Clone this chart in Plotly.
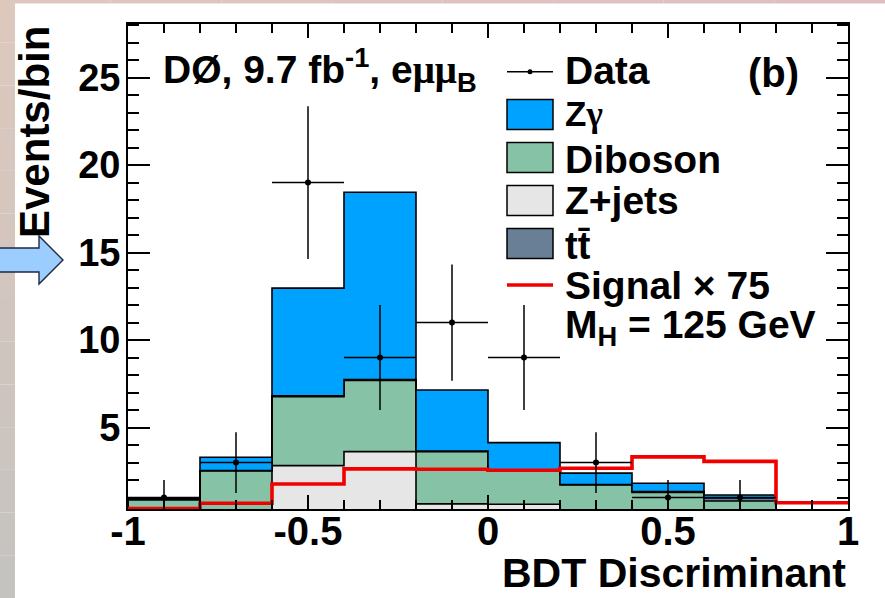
import numpy as np
import plotly.graph_objects as go

# ---------------- data ----------------
bin_edges = [-1.0, -0.8, -0.6, -0.4, -0.2, 0.0, 0.2, 0.4, 0.6, 0.8, 1.0]
zjets    = [0.05, 0.10, 2.83, 3.63, 0.64, 0.62, 0.30, 0.20, 0.10, 0.02]
diboson  = [0.82, 2.43, 3.94, 4.06, 2.99, 1.92, 1.42, 1.09, 0.71, 0.10]
ttbar    = [0.05, 0.02, 0.05, 0.05, 0.03, 0.03, 0.03, 0.05, 0.17, 0.02]
zgamma   = [0.05, 0.76, 6.15, 10.71, 3.49, 1.57, 0.65, 0.48, 0.17, 0.02]
signal   = [0.37, 0.68, 1.78, 2.64, 2.62, 2.56, 2.68, 3.33, 3.07, 0.71]
data     = [1, 3, 19, 9, 11, 9, 3, 1, 1, 0]
data_err = [1.0, 1.73, 4.36, 3.0, 3.32, 3.0, 1.73, 1.0, 1.0, 0.0]

x_tickvals = [-1, -0.5, 0, 0.5, 1]
x_ticktext = ["-1", "-0.5", "0", "0.5", "1"]
y_tickvals = [5, 10, 15, 20, 25]

# ---------------- styling ----------------
W, H = 885, 598
L, R, T, B = 128, 37, 24, 89
PW, PH = W - L - R, H - T - B
FONT = "Liberation Sans"
C_ZG, C_DIB, C_ZJ, C_TT, C_SIG = "#00A2FF", "#86C3A6", "#E6E6E6", "#687F96", "#F20000"


def px(X):
    return (X - L) / PW


def py(Y):
    return (H - B - Y) / PH


edges = np.array(bin_edges)
centers = 0.5 * (edges[:-1] + edges[1:])
halfw = 0.5 * (edges[1:] - edges[:-1])

layers = [("Z+jets", zjets, C_ZJ), ("Diboson", diboson, C_DIB),
          ("ttbar", ttbar, C_TT), ("Zgamma", zgamma, C_ZG)]

fig = go.Figure()
cum = np.zeros(len(zjets))
for i, (name, vals, col) in enumerate(layers):
    cum = cum + np.array(vals)
    xs = [edges[0]] + list(edges) + [edges[-1]]
    ys = [0.0] + list(cum) + [cum[-1], 0.0]
    fig.add_trace(go.Scatter(
        x=xs, y=ys, mode="lines", line=dict(shape="hv", color="black", width=1.6),
        fill="tozeroy" if i == 0 else "tonexty", fillcolor=col,
        name=name, showlegend=False, hoverinfo="skip"))

# signal x 75
fig.add_trace(go.Scatter(
    x=list(edges), y=list(signal) + [signal[-1]], mode="lines",
    line=dict(shape="hv", color=C_SIG, width=3.6), showlegend=False, hoverinfo="skip"))

# data
d = np.array(data, dtype=float)
mask = d > 0
fig.add_trace(go.Scatter(
    x=centers[mask], y=d[mask], mode="markers",
    marker=dict(color="black", size=6),
    error_y=dict(type="data", array=np.array(data_err)[mask], color="black", thickness=1.5, width=0),
    error_x=dict(type="data", array=halfw[mask], color="black", thickness=1.5, width=0),
    showlegend=False, hoverinfo="skip"))

axis_common = dict(showgrid=False, zeroline=False, showline=True, linecolor="black",
                   linewidth=1.8, mirror="ticks", ticks="inside", tickcolor="black",
                   tickwidth=1.5)

fig.update_xaxes(range=[-1, 1], tickmode="array", tickvals=x_tickvals, ticktext=x_ticktext,
                 ticklen=14, ticklabelstandoff=-14,
                 minor=dict(tickmode="linear", tick0=-1, dtick=0.1, ticks="inside",
                            ticklen=9, tickcolor="black", tickwidth=1.5),
                 tickfont=dict(family=FONT, size=40, color="black", weight="bold"),
                 **axis_common)
fig.update_yaxes(range=[0.35, 28.06], tickmode="array", tickvals=y_tickvals,
                 ticklen=22, ticklabelstandoff=-2,
                 minor=dict(tickmode="linear", tick0=0, dtick=1, ticks="inside",
                            ticklen=11, tickcolor="black", tickwidth=1.5),
                 tickfont=dict(family=FONT, size=38, color="black", weight="bold"),
                 **axis_common)

shapes = []
# slide background strips
n = 14
top_c = np.array([222, 201, 190])
bot_c = np.array([197, 195, 192])
for k in range(n):
    c = top_c + (bot_c - top_c) * (k + 0.5) / n
    y0 = H * k / n
    y1 = H * (k + 1) / n
    shapes.append(dict(type="rect", xref="paper", yref="paper", layer="below",
                       x0=px(0), x1=px(15), y0=py(y0), y1=py(y1),
                       fillcolor="rgb(%d,%d,%d)" % tuple(c), line=dict(width=0)))
m = 8
l_c = np.array([222, 201, 190])
r_c = np.array([224, 190, 195])
for k in range(m):
    c = l_c + (r_c - l_c) * (k + 0.5) / m
    shapes.append(dict(type="rect", xref="paper", yref="paper", layer="below",
                       x0=px(W * k / m), x1=px(W * (k + 1) / m), y0=py(0), y1=py(3.5),
                       fillcolor="rgb(%d,%d,%d)" % tuple(c), line=dict(width=0)))

# arrow
pts = [(-2, 248), (39, 248), (39, 236), (63, 260), (39, 284), (39, 272), (-2, 272)]
path = "M " + " L ".join("%.5f,%.5f" % (px(a), py(b)) for a, b in pts) + " Z"
shapes.append(dict(type="path", xref="paper", yref="paper", path=path,
                   fillcolor="#9CCDFF", line=dict(color="#1E2A44", width=1.4)))

# legend symbols
bx0, bx1 = 507, 553
for (y0, y1, col) in [(99.5, 129.5, C_ZG), (142.5, 172.5, C_DIB),
                      (185.5, 215.5, C_ZJ), (228.5, 258.5, C_TT)]:
    shapes.append(dict(type="rect", xref="paper", yref="paper",
                       x0=px(bx0), x1=px(bx1), y0=py(y0), y1=py(y1),
                       fillcolor=col, line=dict(color="black", width=1.5)))
shapes.append(dict(type="line", xref="paper", yref="paper",
                   x0=px(bx0), x1=px(bx1), y0=py(71.7), y1=py(71.7),
                   line=dict(color="black", width=1.5)))
shapes.append(dict(type="circle", xref="paper", yref="paper",
                   x0=px(527.5), x1=px(532.5), y0=py(69.2), y1=py(74.2),
                   fillcolor="black", line=dict(color="black", width=0)))
shapes.append(dict(type="line", xref="paper", yref="paper",
                   x0=px(bx0), x1=px(bx1), y0=py(285), y1=py(285),
                   line=dict(color=C_SIG, width=3.6)))

annotations = []


def ann(text, X, Y, size, xanchor="left", yanchor="middle", angle=0):
    annotations.append(dict(text=text, x=px(X), y=py(Y), xref="paper", yref="paper",
                            xanchor=xanchor, yanchor=yanchor, showarrow=False,
                            textangle=angle,
                            font=dict(family=FONT, size=size, color="black", weight="bold")))


ann("Events/bin", 34, 24, 42, xanchor="center", yanchor="top", angle=-90)
ann("BDT Discriminant", 848, 598, 41, xanchor="right", yanchor="bottom")
ann("DØ, 9.7 fb<sup>-1</sup>, e<span style='font-family:Liberation Serif'>μμ</span><sub>B</sub>",
    161, 70, 39)
ann("(b)", 746, 73, 40)
ann("Data", 563, 70, 39)
ann("Z<span style='font-family:Liberation Serif'>γ</span>", 563, 114, 35)
ann("Diboson", 563, 159, 39)
ann("Z+jets", 563, 200, 39)
ann("tt\u0304", 563, 246, 38)
ann("Signal × 75", 563, 285, 39)
ann("M<sub>H</sub> = 125 GeV", 563, 327, 39)

fig.update_layout(width=W, height=H, margin=dict(l=L, r=R, t=T, b=B, pad=0),
                  paper_bgcolor="white", plot_bgcolor="white",
                  shapes=shapes, annotations=annotations, showlegend=False,
                  font=dict(family=FONT, color="black"))

fig.write_html("out.html")
